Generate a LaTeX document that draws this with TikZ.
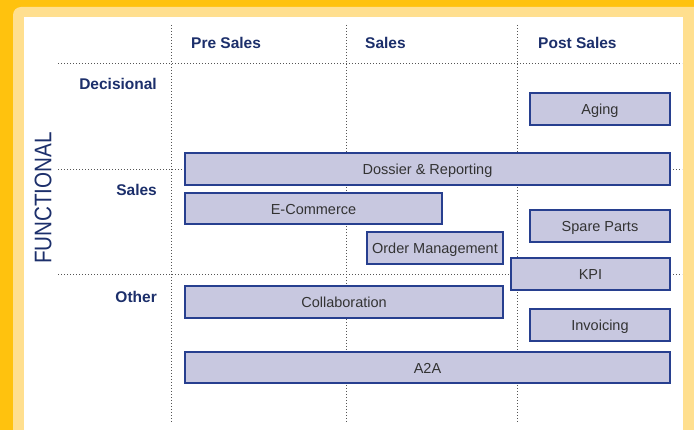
\documentclass[tikz,border=0pt]{standalone}
\usepackage{fontspec}
\setmainfont{Liberation Sans}
\definecolor{darkyel}{HTML}{FFC20E}
\definecolor{lightyel}{HTML}{FFDF8F}
\definecolor{navy}{HTML}{1C2F6B}
\definecolor{boxline}{HTML}{273F8F}
\definecolor{boxfill}{HTML}{C8C8E0}
\definecolor{boxtext}{HTML}{333333}
\definecolor{dotcol}{HTML}{555555}
\begin{document}
\begin{tikzpicture}[x=1pt,y=-1pt,
  box/.style={draw=boxline, fill=boxfill, line width=2.5pt, inner sep=0pt,
    text height=11.6pt, text depth=0pt,
    text=boxtext, font=\fontsize{14.5}{16}\selectfont},
  head/.style={text=navy, font=\fontsize{15.5}{18}\selectfont\bfseries, inner sep=0pt},
  grid/.style={draw=dotcol, line width=0.9pt, dash pattern=on 0.9pt off 2.1pt}]
\useasboundingbox (0,0) rectangle (694,430);
\fill[darkyel] (0,0) rectangle (694,430);
\fill[lightyel, rounded corners=8pt] (13,7) rectangle (710,445);
\fill[white] (24,17) rectangle (683,430);
% grid
\coordinate (v1t) at (171,25); \coordinate (v1b) at (171,423);
\coordinate (v2t) at (346,25); \coordinate (v2b) at (346,423);
\coordinate (v3t) at (517,25); \coordinate (v3b) at (517,423);
\coordinate (h1l) at (58,63);  \coordinate (h1r) at (682,63);
\coordinate (h2l) at (58,169); \coordinate (h2r) at (682,169);
\coordinate (h3l) at (58,274); \coordinate (h3r) at (682,274);
\draw[grid] (v1t) -- (v1b);
\draw[grid] (v2t) -- (v2b);
\draw[grid] (v3t) -- (v3b);
\draw[grid] (h1l) -- (h1r);
\draw[grid] (h2l) -- (h2r);
\draw[grid] (h3l) -- (h3r);
% headers
\node[head, anchor=west] (hpre) at (191,43) {Pre Sales};
\node[head, anchor=west] (hsales) at (365,43) {Sales};
\node[head, anchor=west] (hpost) at (538,43) {Post Sales};
\node[head, anchor=east] (rdec) at (157,84) {Decisional};
\node[head, anchor=east] (rsales) at (157,190) {Sales};
\node[head, anchor=east] (rother) at (157,297) {Other};
\node[text=navy, rotate=90, inner sep=0pt, font=\fontsize{24}{26}\selectfont] (func) at (43,198) {\scalebox{0.86}[1]{FUNCTIONAL}};
% boxes
\node[box, minimum width=140pt, minimum height=32pt] (aging) at (600,109) {Aging};
\node[box, minimum width=485pt, minimum height=32pt] (dossier) at (427.5,169) {Dossier \& Reporting};
\node[box, minimum width=257pt, minimum height=31pt] (ecom) at (313.5,208.5) {E-Commerce};
\node[box, minimum width=140pt, minimum height=32pt] (spare) at (600,226) {Spare Parts};
\node[box, minimum width=136pt, minimum height=32pt] (order) at (435,248) {Order Management};
\node[box, minimum width=159pt, minimum height=32pt] (kpi) at (590.5,274) {KPI};
\node[box, minimum width=318pt, minimum height=32pt] (collab) at (344,302) {Collaboration};
\node[box, minimum width=140pt, minimum height=32pt] (invoic) at (600,325) {Invoicing};
\node[box, minimum width=485pt, minimum height=31pt] (a2a) at (427.5,367.5) {A2A};
\end{tikzpicture}
\end{document}
